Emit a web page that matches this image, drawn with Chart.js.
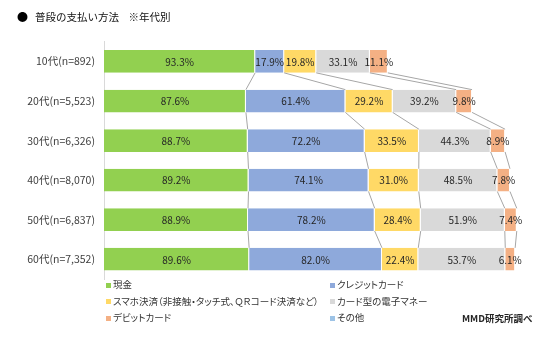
<!DOCTYPE html>
<html><head><meta charset="utf-8">
<script src="https://cdn.jsdelivr.net/npm/chart.js@4/dist/chart.umd.min.js"></script>
<style>
html,body{margin:0;padding:0;background:#fff;}
#wrap{position:relative;width:550px;height:351px;font-family:'Noto Sans CJK JP',sans-serif;}
canvas{position:absolute;left:0;top:0;}
.t{position:absolute;white-space:nowrap;line-height:1;}
.p{font-feature-settings:"palt";}
.mk{position:absolute;width:5px;height:5px;}
</style></head><body>
<div id="wrap">
<canvas id="c" width="550" height="351"></canvas>
<div class="t" style="left:17px;top:11px;font-size:11px;color:#000">●</div>
<div class="t" style="left:35px;top:12px;font-size:10.5px;color:#111">普段の支払い方法&nbsp;&nbsp;&nbsp;&nbsp;※年代別</div>
<div id="legend"></div>
<div class="t" style="left:462px;top:314px;font-size:9.5px;font-weight:bold;color:#262626">MMD研究所調べ</div>
</div>
<script>
const categories = ['10代(n=892)','20代(n=5,523)','30代(n=6,326)','40代(n=8,070)','50代(n=6,837)','60代(n=7,352)'];
const cash       = [93.3, 87.6, 88.7, 89.2, 88.9, 89.6];
const credit     = [17.9, 61.4, 72.2, 74.1, 78.2, 82.0];
const smartphone = [19.8, 29.2, 33.5, 31.0, 28.4, 22.4];
const emoney     = [33.1, 39.2, 44.3, 48.5, 51.9, 53.7];
const debit      = [11.1,  9.8,  8.9,  7.8,  7.4,  6.1];
const other      = [0, 0, 0, 0, 0, 0];
const seriesNames = ['現金','クレジットカード','スマホ決済（非接触・タッチ式、ＱＲコード決済など）','カード型の電子マネー','デビットカード','その他'];
const seriesData = [cash, credit, smartphone, emoney, debit, other];
const colors = ['#92D050','#8EA9DB','#FFD966','#D9D9D9','#F4B084','#9DC3E6'];

const FONT = "'Noto Sans CJK JP', sans-serif";

// HTML legend (two columns, row-major)
const lg = document.getElementById('legend');
seriesNames.forEach((n,i)=>{
  const col = i%2, row = Math.floor(i/2);
  const x = col ? 330 : 106, y = 285 + row*16.7;
  const m = document.createElement('div'); m.className='mk';
  m.style.left = x+'px'; m.style.top = (y-2.5)+'px'; m.style.background = colors[i];
  const t = document.createElement('div'); t.className='t p';
  t.style.left = (x+7)+'px'; t.style.top = (y-5)+'px'; t.style.fontSize='9.5px'; t.style.color='#333';
  t.textContent = n;
  lg.appendChild(m); lg.appendChild(t);
});

const connectors = {
  id:'connectors',
  afterDatasetsDraw(chart){
    const ctx = chart.ctx; ctx.save();
    ctx.strokeStyle = '#A6A6A6'; ctx.lineWidth = 1;
    const n = chart.data.labels.length;
    for (let k=0;k<5;k++){
      const meta = chart.getDatasetMeta(k);
      for (let i=0;i<n-1;i++){
        const a = meta.data[i], b = meta.data[i+1];
        ctx.beginPath();
        ctx.moveTo(a.x, a.y + a.height/2);
        ctx.lineTo(b.x, b.y - b.height/2);
        ctx.stroke();
      }
    }
    // data labels
    ctx.font = '10px ' + FONT; ctx.textAlign='center'; ctx.textBaseline='middle'; ctx.fillStyle='#262626';
    chart.data.datasets.forEach((ds,k)=>{
      const meta = chart.getDatasetMeta(k);
      meta.data.forEach((el,i)=>{
        const v = ds.data[i]; if(!v) return;
        ctx.fillText(v.toFixed(1)+'%', (el.x+el.base)/2, el.y+0.5);
      });
    });
    ctx.restore();
  }
};

new Chart(document.getElementById('c'), {
  type:'bar',
  data:{
    labels: categories,
    datasets: seriesNames.map((n,i)=>({
      label:n, data:seriesData[i], backgroundColor:colors[i],
      borderColor:'#ffffff', borderWidth:{left:0,right:1,top:0,bottom:0}, borderSkipped:false,
      barPercentage:0.575, categoryPercentage:1
    }))
  },
  options:{
    indexAxis:'y', responsive:false, animation:false, devicePixelRatio:1,
    layout:{padding:{left:0,right:8.6,top:41.7,bottom:72}},
    plugins:{legend:{display:false}, tooltip:{enabled:false}, title:{display:false}},
    scales:{
      x:{display:false, stacked:true, min:0, max:270},
      y:{stacked:true, grid:{display:false, drawTicks:false},
         border:{display:true, color:'#D9D9D9', width:1},
         ticks:{padding:9, color:'#404040', font:{family:FONT, size:10.5}},
         afterFit(s){ s.width = 104; }}
    }
  },
  plugins:[connectors]
});
</script>
</body></html>
